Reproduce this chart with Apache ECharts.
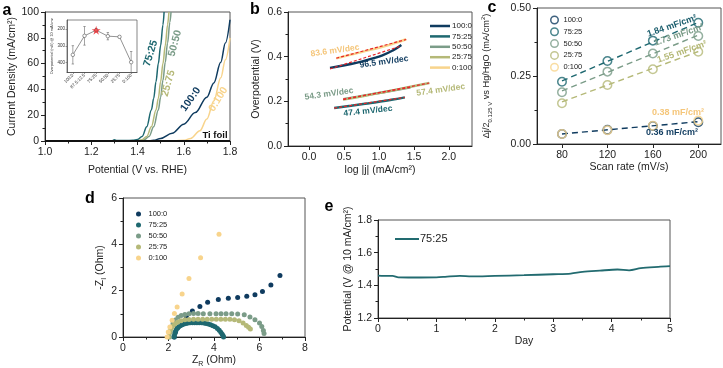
<!DOCTYPE html>
<html><head><meta charset="utf-8">
<script src="https://cdn.jsdelivr.net/npm/echarts@6/dist/echarts.min.js"></script>
<style>html,body{margin:0;padding:0;background:#fff}#c{width:723px;height:368px}</style>
</head><body><div id="c"></div>
<script>
// ---------- DATA ----------
// Panel a: LSV curves [potential V vs RHE, current density mA/cm2]
const a_100_0 = [[1.0,0],[1.44,0],[1.47,0.5],[1.50,2],[1.55,6],[1.60,13],[1.65,22],[1.70,34],[1.73,45],[1.76,61],[1.78,76],[1.80,94]];
const a_75_25 = [[1.0,0],[1.29,0],[1.30,1.0],[1.31,0.4],[1.35,0.3],[1.38,0.5],[1.40,1.2],[1.42,3.5],[1.44,11],[1.46,24],[1.47,33],[1.48,46],[1.49,60],[1.50,74],[1.51,90],[1.515,100]];
const a_50_50 = [[1.0,0],[1.41,0.2],[1.43,1],[1.45,3.5],[1.47,11],[1.49,24],[1.50,34],[1.51,47],[1.52,61],[1.53,76],[1.54,92],[1.545,100]];
const a_25_75 = [[1.0,0],[1.40,0.2],[1.42,1],[1.44,3.5],[1.46,11],[1.48,24],[1.49,33],[1.50,46],[1.51,60],[1.52,74],[1.53,90],[1.536,100]];
const a_0_100 = [[1.0,0],[1.56,0],[1.60,0.6],[1.63,2],[1.67,8],[1.70,17],[1.73,31],[1.76,49],[1.78,63],[1.80,80]];
const a_ti = [[1.0,0],[1.8,0]];
// Inset: overpotential @10 mA/cm2
const insetCats = ['100:0','87.5:12.5','75:25','50:50','25:75','0:100'];
const insetVals = [354,240,206,242,246,398];
const insetErr  = [55,56,10,22,6,64];
// Panel b: Tafel [log|j|, overpotential V]
const b_100_0 = [[0.30,0.350],[0.45,0.358],[0.6,0.367],[0.75,0.378],[0.9,0.391],[1.05,0.406],[1.2,0.428],[1.32,0.452]];
const b_75_25 = [[0.36,0.170],[0.6,0.180],[0.8,0.189],[1.0,0.198],[1.2,0.208],[1.37,0.218]];
const b_50_50 = [[0.49,0.210],[0.7,0.221],[0.9,0.232],[1.1,0.243],[1.3,0.254],[1.45,0.263]];
const b_25_75 = [[0.49,0.208],[0.8,0.225],[1.1,0.243],[1.4,0.262],[1.72,0.282]];
const b_0_100 = [[0.39,0.392],[0.6,0.409],[0.8,0.425],[1.0,0.44],[1.2,0.458],[1.39,0.478]];
const bFit_100_0 = [[0.30,0.345],[1.32,0.448]];
const bFit_75_25 = [[0.36,0.170],[1.37,0.218]];
const bFit_50_50 = [[0.49,0.210],[1.45,0.263]];
const bFit_25_75 = [[0.49,0.208],[1.72,0.282]];
const bFit_0_100 = [[0.39,0.393],[1.39,0.477]];
const bSlopes = ['83.6 mV/dec','96.5 mV/dec','54.3 mV/dec','57.4 mV/dec','47.4 mV/dec'];
// Panel c: double-layer capacitance
const scanRates = [80,120,160,200];
const c_100_0 = [0.037,0.052,0.066,0.080];
const c_75_25 = [0.229,0.305,0.380,0.446];
const c_50_50 = [0.190,0.266,0.333,0.397];
const c_25_75 = [0.150,0.217,0.275,0.339];
const c_0_100 = [0.037,0.051,0.067,0.086];
const fitRates = [80,200];
const cFit_75_25 = [0.232,0.447];
const cFit_50_50 = [0.195,0.400];
const cFit_25_75 = [0.155,0.340];
const cFit_low   = [0.037,0.082];
const cLabels = ['1.84 mF/cm²','1.73 mF/cm²','1.55 mF/cm²','0.38 mF/cm²','0.36 mF/cm²'];
// Panel d: Nyquist [Z_R, -Z_I]
const d_100_0 = [[2.25,0],[2.3,0.2],[2.4,0.4],[2.58,0.66],[2.78,0.9],[3.05,1.12],[3.38,1.32],[3.72,1.50],[4.19,1.62],[4.63,1.67],[5.04,1.71],[5.44,1.76],[5.8,1.82],[6.13,1.96],[6.5,2.24],[6.9,2.65]];
const d_75_25 = [[2.25,0],[2.27,0.12],[2.30,0.22],[2.34,0.31],[2.39,0.38],[2.45,0.44],[2.52,0.49],[2.60,0.53],[2.68,0.56],[2.77,0.58],[2.86,0.60],[2.95,0.61],[3.05,0.62],[3.15,0.62],[3.25,0.62],[3.35,0.62],[3.45,0.61],[3.55,0.60],[3.65,0.58],[3.75,0.56],[3.85,0.53],[3.95,0.49],[4.05,0.44],[4.15,0.37],[4.23,0.29],[4.30,0.20],[4.36,0.12],[4.40,0.05],[4.42,0]];
const d_50_50 = [[2.05,0],[2.08,0.2],[2.12,0.4],[2.2,0.58],[2.3,0.73],[2.42,0.85],[2.56,0.93],[2.72,0.97],[2.9,1.0],[3.1,1.01],[3.3,1.01],[3.53,1.0],[3.82,1.0],[4.09,1.0],[4.31,1.0],[4.53,1.0],[4.78,1.0],[5.04,0.99],[5.33,0.96],[5.58,0.86],[5.8,0.74],[6.0,0.6],[6.1,0.45],[6.17,0.28],[6.2,0.15]];
const d_25_75 = [[2.0,0],[2.04,0.18],[2.1,0.33],[2.18,0.46],[2.28,0.56],[2.4,0.64],[2.55,0.7],[2.72,0.74],[2.9,0.76],[3.1,0.77],[3.3,0.77],[3.5,0.77],[3.7,0.77],[3.9,0.77],[4.1,0.77],[4.3,0.77],[4.5,0.77],[4.7,0.77],[4.9,0.75],[5.1,0.7],[5.28,0.6],[5.42,0.5],[5.52,0.42],[5.6,0.35]];
const d_0_100 = [[1.94,0],[1.99,0.22],[2.06,0.43],[2.16,0.72],[2.26,1.01],[2.38,1.30],[2.60,1.86],[2.90,2.53],[3.41,3.42],[4.22,4.44]];
// Panel e: stability
const eDays = [0,0.1,0.25,0.35,0.6,1.0,1.15,1.4,1.6,2.0,2.5,3.0,3.3,3.5,3.8,4.1,4.3,4.5,4.8,5.0];
const ePot  = [1.46,1.458,1.458,1.449,1.448,1.449,1.452,1.458,1.455,1.458,1.462,1.468,1.472,1.482,1.49,1.497,1.492,1.505,1.513,1.517];
const names = ['100:0','75:25','50:50','25:75','0:100'];

// ---------- STYLE ----------
const FF = '"Liberation Sans", Arial, Helvetica, sans-serif';
const COL = {'100:0':'#0f3b5f','75:25':'#1e6870','50:50':'#7b9c88','25:75':'#b5b978','0:100':'#f8d48c'};
const RED = '#e8262a';
const AX = '#222';
const FS = 10.5;

function vAxis(gi, o){
  const base = {gridIndex:gi, type:'value',
    axisLine:{show:true,onZero:false,lineStyle:{color:AX,width:1}},
    axisTick:{show:true,length:4,lineStyle:{color:AX}},
    minorTick:{show:false},
    splitLine:{show:false},
    axisLabel:{color:AX,fontSize:FS,fontFamily:FF,margin:6},
    nameLocation:'middle',
    nameTextStyle:{color:AX,fontSize:FS,fontFamily:FF}};
  for (const k in o){
    if (typeof o[k]==='object' && !Array.isArray(o[k]) && base[k]) base[k] = Object.assign({}, base[k], o[k]);
    else base[k] = o[k];
  }
  return base;
}
const minor = {show:true,splitNumber:2,length:2.5,lineStyle:{color:AX}};
const gridBase = {show:true,borderColor:'#555',borderWidth:1,backgroundColor:'transparent',outerBoundsMode:'none',containLabel:false};

const grids = [
  Object.assign({left:45,top:12,width:185,height:129}, gridBase),
  Object.assign({left:67,top:20,width:70,height:52.5}, gridBase, {borderWidth:0.7,backgroundColor:'#fff'}),
  Object.assign({left:288,top:12,width:184,height:134}, gridBase),
  Object.assign({left:537,top:8,width:184,height:136}, gridBase),
  Object.assign({left:123,top:198,width:182,height:139}, gridBase),
  Object.assign({left:378,top:220,width:292,height:98}, gridBase)
];

const xAxes = [
  vAxis(0,{min:1.0,max:1.8,interval:0.2,minorTick:minor,axisLabel:{formatter:v=>v.toFixed(1)},name:'Potential (V vs. RHE)',nameGap:24}),
  {gridIndex:1,type:'category',data:insetCats,boundaryGap:true,
    axisLine:{show:true,onZero:false,lineStyle:{color:'#444',width:0.7}},
    axisTick:{show:true,length:1.5,alignWithLabel:true,lineStyle:{color:'#444',width:0.5}},
    axisLabel:{fontSize:4.5,color:'#333',rotate:45,margin:2,interval:0,fontFamily:FF},splitLine:{show:false}},
  vAxis(2,{min:-0.3,max:2.33,axisLabel:{customValues:[0,0.5,1,1.5,2],formatter:v=>v.toFixed(1)},axisTick:{customValues:[0,0.5,1,1.5,2]},
    name:'log |j| (mA/cm²)',nameGap:19}),
  vAxis(3,{min:58,max:220,axisLabel:{customValues:[80,120,160,200]},axisTick:{customValues:[80,120,160,200]},
    name:'Scan rate (mV/s)',nameGap:15}),
  vAxis(4,{min:0,max:8,interval:2,minorTick:minor,name:'{a|Z}{s|R}{a| (Ohm)}',nameGap:14,
    nameTextStyle:{rich:{a:{fontSize:FS,fontFamily:FF,color:AX,lineHeight:14},s:{fontSize:7,fontFamily:FF,color:AX,verticalAlign:'bottom',lineHeight:14}}}}),
  vAxis(5,{min:0,max:5,interval:1,minorTick:minor,name:'Day',nameGap:15})
];
const yAxes = [
  vAxis(0,{min:0,max:100,interval:20,minorTick:minor,name:'Current Density (mA/cm²)',nameGap:24}),
  {gridIndex:1,type:'value',min:145,max:460,inverse:true,
    axisLine:{show:true,onZero:false,lineStyle:{color:'#444',width:0.7}},
    axisTick:{show:true,length:1.5,customValues:[200,300,400],lineStyle:{color:'#444',width:0.5}},
    axisLabel:{fontSize:4.5,color:'#333',margin:2,customValues:[200,300,400],fontFamily:FF},splitLine:{show:false},
    name:'Overpotential (mV) @ 10 mA/cm²',nameLocation:'middle',nameGap:10,nameTextStyle:{fontSize:3.8,color:'#333',fontFamily:FF}},
  vAxis(2,{min:0,max:0.6,interval:0.2,minorTick:minor,axisLabel:{formatter:v=>v.toFixed(1)},name:'Overpotential (V)',nameGap:26}),
  vAxis(3,{min:0,max:0.5,interval:0.25,minorTick:minor,axisLabel:{formatter:v=>v.toFixed(2)},
    name:'{a|Δj/2}{s|0.125 V}{a| vs Hg/HgO (mA/cm}{p|2}{a|)}',nameGap:44,
    nameTextStyle:{rich:{a:{fontSize:9.2,fontFamily:FF,color:AX,lineHeight:13},s:{fontSize:6,fontFamily:FF,color:AX,verticalAlign:'bottom',lineHeight:13},p:{fontSize:6,fontFamily:FF,color:AX,verticalAlign:'top',lineHeight:13}}}}),
  vAxis(4,{min:0,max:6,interval:2,minorTick:minor,name:'{a|-Z}{s|I}{a| (Ohm)}',nameGap:14,
    nameTextStyle:{rich:{a:{fontSize:FS,fontFamily:FF,color:AX,lineHeight:14},s:{fontSize:7,fontFamily:FF,color:AX,verticalAlign:'bottom',lineHeight:14}}}}),
  vAxis(5,{min:1.2,max:1.8,interval:0.2,minorTick:minor,axisLabel:{formatter:v=>v.toFixed(1)},name:'Potential (V @ 10 mA/cm²)',nameGap:22})
];

const series = [];
// Panel a
const aSets = {'100:0':a_100_0,'75:25':a_75_25,'50:50':a_50_50,'25:75':a_25_75,'0:100':a_0_100};
series.push({type:'line',xAxisIndex:0,yAxisIndex:0,data:a_ti,showSymbol:false,lineStyle:{color:'#111',width:2.2},z:3});
['0:100','100:0','50:50','25:75','75:25'].forEach(n=>{
  series.push({type:'line',name:'a|'+n,xAxisIndex:0,yAxisIndex:0,data:aSets[n],showSymbol:false,smooth:0.35,smoothMonotone:'x',
    lineStyle:{color:COL[n],width:1.5},z:2});
});
// inset
series.push({type:'custom',xAxisIndex:1,yAxisIndex:1,z:10,
  data:insetVals.map((v,i)=>[i,v-insetErr[i],v+insetErr[i]]),
  renderItem:(p,api)=>{
    const x=api.value(0), lo=api.coord([x,api.value(1)]), hi=api.coord([x,api.value(2)]);
    const s={stroke:'#666',lineWidth:0.6};
    return {type:'group',children:[
      {type:'line',shape:{x1:lo[0],y1:lo[1],x2:hi[0],y2:hi[1]},style:s},
      {type:'line',shape:{x1:lo[0]-1.2,y1:lo[1],x2:lo[0]+1.2,y2:lo[1]},style:s},
      {type:'line',shape:{x1:hi[0]-1.2,y1:hi[1],x2:hi[0]+1.2,y2:hi[1]},style:s}]};
  }});
series.push({type:'line',xAxisIndex:1,yAxisIndex:1,data:insetVals,symbol:'circle',symbolSize:3.5,z:11,
  lineStyle:{color:'#777',width:0.8},itemStyle:{color:'#fff',borderColor:'#555',borderWidth:0.6}});
series.push({type:'scatter',xAxisIndex:1,yAxisIndex:1,data:[[2,insetVals[2]]],z:12,
  symbol:'path://M50,0 L61,35 L98,35 L68,57 L79,91 L50,70 L21,91 L32,57 L2,35 L39,35 Z',symbolSize:9,itemStyle:{color:RED}});
// Panel b
const bSets = {'100:0':b_100_0,'75:25':b_75_25,'50:50':b_50_50,'25:75':b_25_75,'0:100':b_0_100};
const bFits = {'100:0':bFit_100_0,'75:25':bFit_75_25,'50:50':bFit_50_50,'25:75':bFit_25_75,'0:100':bFit_0_100};
names.forEach(n=>{
  series.push({type:'line',name:'b|'+n,xAxisIndex:2,yAxisIndex:2,data:bSets[n],showSymbol:false,smooth:true,
    lineStyle:{color:COL[n],width:2.4},itemStyle:{color:COL[n]}});
});
names.forEach(n=>{
  series.push({type:'line',xAxisIndex:2,yAxisIndex:2,data:bFits[n],showSymbol:false,z:4,
    lineStyle:{color:RED,width:1.2,type:[3,2]}});
});
// Panel c
const cSets = {'100:0':c_100_0,'75:25':c_75_25,'50:50':c_50_50,'25:75':c_25_75,'0:100':c_0_100};
[['75:25',cFit_75_25],['50:50',cFit_50_50],['25:75',cFit_25_75],['100:0',cFit_low]].forEach(([n,f])=>{
  series.push({type:'line',xAxisIndex:3,yAxisIndex:3,data:fitRates.map((r,i)=>[r,f[i]]),showSymbol:false,
    lineStyle:{color:COL[n],width:1.4,type:[6,4]}});
});
names.forEach(n=>{
  series.push({type:'scatter',name:'c|'+n,xAxisIndex:3,yAxisIndex:3,data:scanRates.map((r,i)=>[r,cSets[n][i]]),
    symbol:'circle',symbolSize:8.5,itemStyle:{color:'rgba(255,255,255,0)',borderColor:COL[n],borderWidth:1.5},z:5});
});
// Panel d
const dSets = {'100:0':d_100_0,'75:25':d_75_25,'50:50':d_50_50,'25:75':d_25_75,'0:100':d_0_100};
names.forEach(n=>{
  series.push({type:'scatter',name:'d|'+n,xAxisIndex:4,yAxisIndex:4,data:dSets[n],symbol:'circle',symbolSize:5,
    itemStyle:{color:COL[n],opacity:1}});
});
// Panel e
series.push({type:'line',name:'e|75:25',xAxisIndex:5,yAxisIndex:5,data:eDays.map((d,i)=>[d,ePot[i]]),showSymbol:false,smooth:0.3,
  lineStyle:{color:'#226b70',width:1.8},itemStyle:{color:'#226b70'}});

const strip = s => s.slice(2);
const legends = [
  {left:425,top:17,orient:'vertical',itemGap:2.4,itemWidth:20,itemHeight:2.5,icon:'rect',formatter:strip,selectedMode:false,
    textStyle:{fontSize:8,fontFamily:FF,color:AX,padding:[0,0,0,-3]},data:names.map(n=>'b|'+n)},
  {left:545,top:10.5,orient:'vertical',itemGap:2.8,itemWidth:8,itemHeight:7.5,formatter:strip,selectedMode:false,
    textStyle:{fontSize:7.5,fontFamily:FF,color:AX},
    data:names.map(n=>({name:'c|'+n,icon:'circle',itemStyle:{color:'rgba(255,255,255,0)',borderColor:COL[n],borderWidth:1.5}}))},
  {left:131,top:205,orient:'vertical',itemGap:3,itemWidth:10,itemHeight:5,formatter:strip,selectedMode:false,
    textStyle:{fontSize:7.5,fontFamily:FF,color:AX},
    data:names.map(n=>({name:'d|'+n,icon:'circle'}))},
  {left:390,top:228.5,orient:'vertical',itemWidth:24,itemHeight:2,icon:'rect',formatter:strip,selectedMode:false,
    textStyle:{fontSize:11,fontFamily:FF,color:AX,padding:[0,0,0,-4]},data:['e|75:25']}
];

function T(x,y,text,color,size,bold,rot){
  return {type:'text',x:x,y:y,rotation:(rot||0)*Math.PI/180,z:100,
    style:{text:text,fill:color,font:(bold?'bold ':'')+size+'px '+FF,align:'center',verticalAlign:'middle'}};
}
const graphics = [
  T(7,11,'a','#000',16,true), T(255,10,'b','#000',16,true), T(492,8,'c','#000',16,true),
  T(90,199,'d','#000',16,true), T(329,207,'e','#000',16,true),
  T(150.7,53.3,names[1],COL['75:25'],10.5,true,73),
  T(175,43.3,names[2],COL['50:50'],10.5,true,75),
  T(168.3,83.3,names[3],COL['25:75'],10.5,true,74),
  T(190.7,99.3,names[0],COL['100:0'],10.5,true,55),
  T(218.3,99.3,names[4],COL['0:100'],10.5,true,58),
  T(215,135,'Ti foil','#111',9.5,true),
  T(335,50.7,bSlopes[0],'#f5c67a',8.5,true,8),
  T(384,62,bSlopes[1],COL['100:0'],8.5,true,8),
  T(329,94,bSlopes[2],COL['50:50'],8.5,true,8),
  T(440.7,90,bSlopes[3],COL['25:75'],8.5,true,8),
  T(368,111,bSlopes[4],COL['75:25'],8.5,true,6),
  T(672,26,cLabels[0],'#1d5f6e',9,true,19),
  T(679,35,cLabels[1],COL['50:50'],9,true,19),
  T(682,52,cLabels[2],COL['25:75'],9,true,19),
  T(678,113,cLabels[3],'#f5c67a',9,true),
  T(672,133,cLabels[4],COL['100:0'],9,true)
];

const chart = echarts.init(document.getElementById('c'),null,{renderer:'canvas'});
chart.setOption({animation:false,backgroundColor:'#fff',textStyle:{fontFamily:FF},
  grid:grids,xAxis:xAxes,yAxis:yAxes,series:series,legend:legends,graphic:graphics});
</script></body></html>
